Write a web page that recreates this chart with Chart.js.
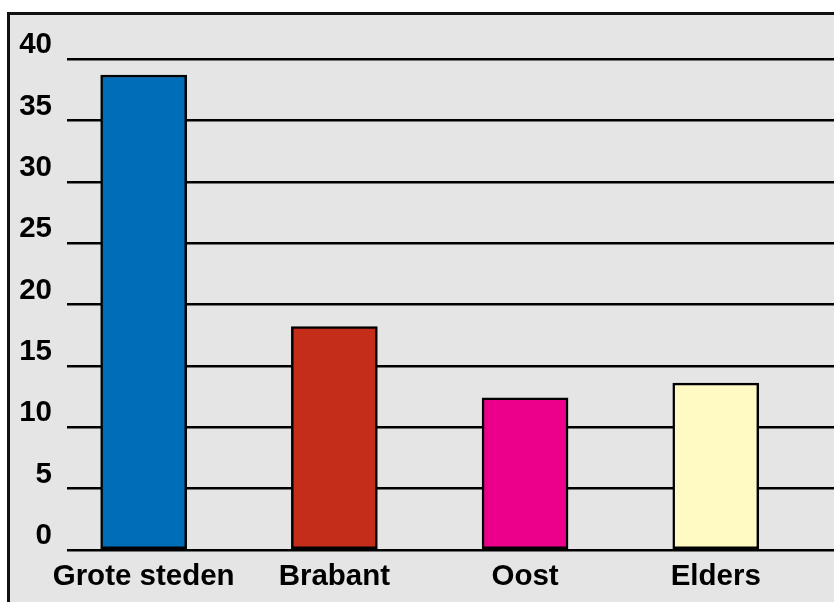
<!DOCTYPE html>
<html>
<head>
<meta charset="utf-8">
<script src="https://cdn.jsdelivr.net/npm/chart.js@4.4.0/dist/chart.umd.min.js"></script>
<style>
    html, body { margin: 0; padding: 0; background: #fff; overflow: hidden; }
    #frame {
        position: absolute; left: 7px; top: 12px;
        width: 1000px; height: 1000px;
        background: #e5e5e5;
        border: 3px solid #111;
    }
    #wrap { position: absolute; left: 0; top: 0; width: 834px; height: 602px; }
</style>
</head>
<body>
<div id="frame"></div>
<div id="wrap"><canvas id="barChart" width="834" height="602"></canvas></div>
<script>
// Categories and values
const categories = ['Grote steden', 'Brabant', 'Oost', 'Elders'];
const values = [38.7, 18.2, 12.4, 13.6];
const barColors = ['#006db8', '#c52d1b', '#ec008b', '#fff9c3'];
const yTicks = [0, 5, 10, 15, 20, 25, 30, 35, 40];

const labelFont = { family: 'Liberation Sans, Arial, sans-serif', size: 29.5, weight: 'bold' };

const ctx = document.getElementById('barChart').getContext('2d');

new Chart(ctx, {
    type: 'bar',
    data: {
        datasets: [{
            data: values.map((v, i) => ({ x: i, y: v })),
            backgroundColor: barColors,
            borderColor: '#000',
            borderWidth: 2.5,
            borderSkipped: false,
            barThickness: 86
        }]
    },
    options: {
        responsive: false,
        animation: false,
        layout: { padding: { top: 59, right: 0, bottom: 0, left: 0 } },
        plugins: {
            legend: { display: false },
            tooltip: { enabled: false }
        },
        scales: {
            x: {
                type: 'linear',
                offset: false,
                min: -0.402,
                max: 3.62,
                grid: { display: false, offset: false },
                border: { display: false },
                afterBuildTicks: scale => {
                    scale.ticks = categories.map((c, i) => ({ value: i }));
                },
                afterFit: scale => { scale.height = 52; },
                ticks: {
                    color: '#000',
                    font: labelFont,
                    padding: 1,
                    maxRotation: 0,
                    autoSkip: false,
                    callback: v => categories[v]
                }
            },
            y: {
                min: 0,
                max: 40,
                grid: { color: '#000', lineWidth: 2.5, drawTicks: false },
                border: { display: false },
                afterBuildTicks: scale => {
                    scale.ticks = yTicks.map(v => ({ value: v }));
                },
                afterFit: scale => { scale.width = 67; },
                ticks: {
                    color: '#000',
                    font: labelFont,
                    padding: 15,
                    labelOffset: -14
                }
            }
        }
    }
});
</script>
</body>
</html>
